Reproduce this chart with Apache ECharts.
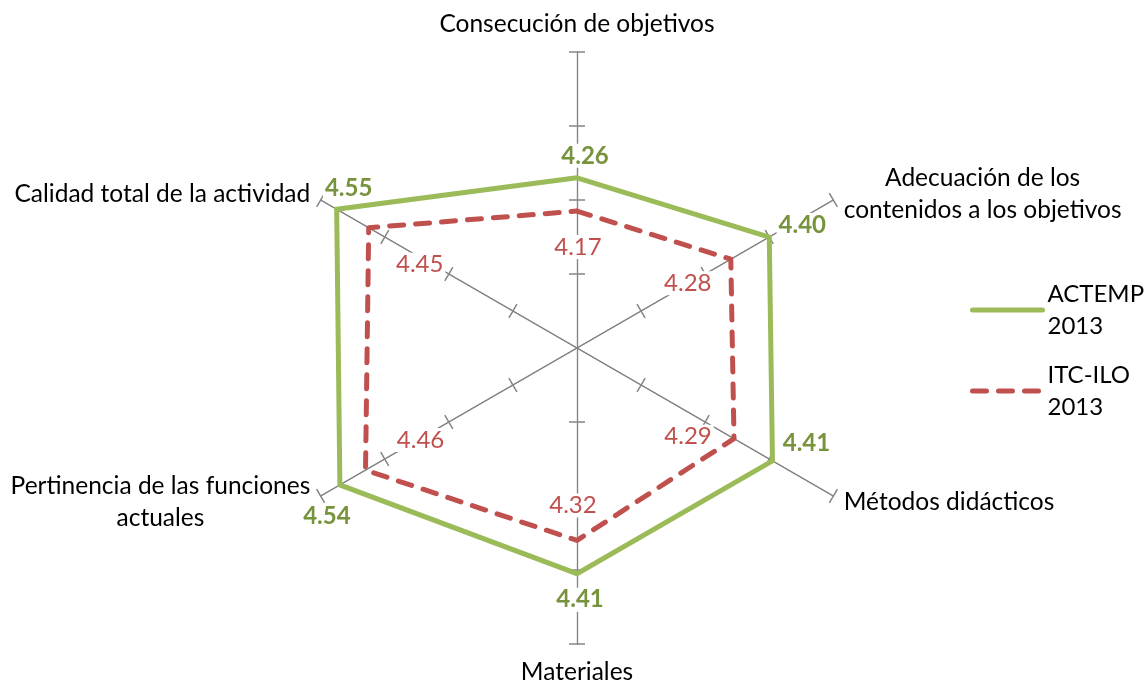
<!DOCTYPE html>
<html><head><meta charset="utf-8">
<script src="https://cdn.jsdelivr.net/npm/echarts@6/dist/echarts.min.js"></script>
<style>html,body{margin:0;padding:0;background:#fff}#c{width:1146px;height:688px}</style>
</head><body><div id="c"></div>
<script>
const categories = ['Consecución de objetivos', 'Adecuación de los\ncontenidos a los objetivos', 'Métodos didácticos', 'Materiales', 'Pertinencia de las funciones\nactuales', 'Calidad total de la actividad'];
const seriesNames = ['ACTEMP\n2013', 'ITC-ILO\n2013'];
const actemp2013 = [4.26, 4.40, 4.41, 4.41, 4.54, 4.55];
const itcIlo2013 = [4.17, 4.28, 4.29, 4.32, 4.46, 4.45];
const axisMin = 3.8;
const axisMax = 4.6;
const tickValues = [4.0, 4.2, 4.4, 4.6];

// layout only: label offsets (px) of each value label from its vertex
const actempLabelOffsets = [[8, -22], [33, -12], [34, -18], [3, 26], [-13, 31], [12, -21]];
const itcLabelOffsets = [[1, 36], [-43, 24], [-46, -2], [-4, -35], [55, -30], [51, 37]];

const FONT = 'Lato';
const NAME_SIZE = 24.5;
const LABEL_SIZE = 24;
const CENTER = [577, 348];
const RADIUS = 296;
const AXIS_COLOR = '#858585';

const n = categories.length;
// radar indicators run counterclockwise; categories are listed clockwise
const radarOrder = [0];
for (let i = n - 1; i >= 1; i--) radarOrder.push(i);

function buildData(values, offsets) {
  const pts = values.map((v, i) => ({ value: [v, i * 360 / n], label: { offset: offsets[i] } }));
  pts.push({ value: [values[0], 360], label: { show: false } });
  return pts;
}

function radarBase(showNames, tickLen) {
  return {
    center: CENTER, radius: RADIUS, startAngle: 90, shape: 'polygon', splitNumber: 4,
    indicator: radarOrder.map(i => ({ name: categories[i], min: axisMin, max: axisMax })),
    nameGap: 12,
    axisName: {
      show: showNames, color: '#000', fontSize: NAME_SIZE, fontFamily: FONT, lineHeight: 32,
      formatter: name => name.indexOf('\n') >= 0 ? name.split('\n').map(s => '{c|' + s + '}').join('\n') : name,
      rich: { c: { align: 'center', fontSize: NAME_SIZE, fontFamily: FONT, color: '#000', lineHeight: 32 } }
    },
    axisLine: { show: true, lineStyle: { color: AXIS_COLOR, width: 1.2 } },
    axisTick: { show: true, length: tickLen, inside: false, customValues: tickValues, lineStyle: { color: AXIS_COLOR, width: 1.5 } },
    axisLabel: { show: false },
    splitLine: { show: false },
    splitArea: { show: false }
  };
}

const chart = echarts.init(document.getElementById('c'));
chart.setOption({
  animation: false,
  backgroundColor: '#fff',
  radar: [radarBase(true, 8), radarBase(false, -8)],
  polar: { center: CENTER, radius: RADIUS },
  angleAxis: { type: 'value', min: 0, max: 360, startAngle: 90, clockwise: true, show: false },
  radiusAxis: { type: 'value', min: axisMin, max: axisMax, show: false },
  legend: {
    orient: 'vertical', left: 970, top: 262, padding: 0, itemGap: -15,
    itemWidth: 70, itemHeight: 14, selectedMode: false,
    data: seriesNames,
    textStyle: { fontSize: 24, fontFamily: FONT, color: '#000', lineHeight: 32, padding: [32, 0, 0, 0] },
    lineStyle: { width: 5 },
    itemStyle: { opacity: 0 }
  },
  series: [
    {
      type: 'line', coordinateSystem: 'polar', name: seriesNames[0],
      data: buildData(actemp2013, actempLabelOffsets),
      symbol: 'circle', symbolSize: 1, showSymbol: true,
      lineStyle: { color: '#9BBB59', width: 5, join: 'miter', cap: 'round' },
      itemStyle: { color: '#9BBB59' },
      label: {
        show: true, position: 'inside', color: '#77933C', fontWeight: 'bold', fontSize: LABEL_SIZE, fontFamily: FONT,
        backgroundColor: '#fff', padding: [0, 2],
        formatter: p => p.value[0].toFixed(2)
      },
      emphasis: { disabled: true }, silent: true
    },
    {
      type: 'line', coordinateSystem: 'polar', name: seriesNames[1],
      data: buildData(itcIlo2013, itcLabelOffsets),
      symbol: 'circle', symbolSize: 1, showSymbol: true,
      lineStyle: { color: '#C0504D', width: 5, type: [14, 12], cap: 'round', join: 'round' },
      itemStyle: { color: '#C0504D' },
      label: {
        show: true, position: 'inside', color: '#C0504D', fontSize: LABEL_SIZE, fontFamily: FONT,
        backgroundColor: '#fff', padding: [0, 2],
        formatter: p => p.value[0].toFixed(2)
      },
      emphasis: { disabled: true }, silent: true
    }
  ]
});
</script></body></html>
